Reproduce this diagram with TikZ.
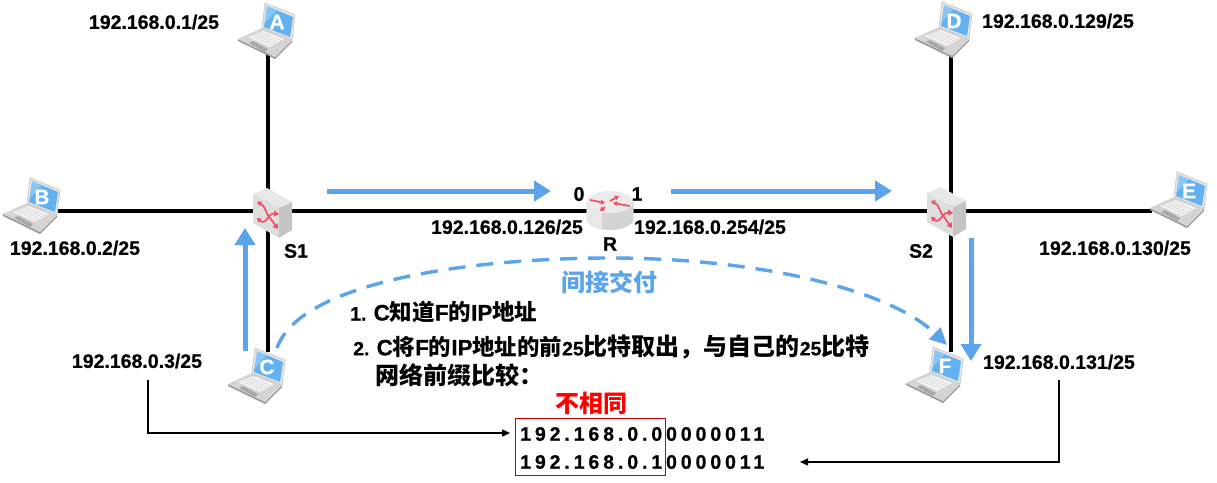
\documentclass[tikz,border=0pt]{standalone}
\usepackage{fontspec}
\setmainfont{Liberation Sans}[BoldFeatures={FakeBold=0.6}]
\newfontfamily\cjkf{Noto Sans CJK SC}
\newfontfamily\bitsf{Liberation Sans}[LetterSpace=20,BoldFeatures={FakeBold=0.6}]
\newcommand{\zh}[1]{{\cjkf\bfseries #1}}
\newcommand{\fs}[2]{{\fontsize{#1}{24}\selectfont #2}}
\usetikzlibrary{arrows.meta,calc}
\definecolor{bluearrow}{HTML}{5BA4EC}
\definecolor{screenblue}{HTML}{62B2F2}
\definecolor{redarrow}{HTML}{EE5064}
\tikzset{
 x=1pt,y=-1pt,
 wire/.style={line width=3.2pt,black},
 flow/.style={line width=5pt,bluearrow,-{Triangle[length=17pt,width=20pt]}},
 thinarrow/.style={line width=1.4pt,black,-{Triangle[length=8pt,width=7pt]}},
 lab/.style={font=\fontsize{19.5}{22}\selectfont\bfseries,inner sep=0pt},
 bits/.style={font=\bitsf\fontsize{19.5}{22}\selectfont\bfseries,inner sep=0pt,anchor=west},
 ra/.style={redarrow,line width=1.7pt,{Triangle[length=4pt,width=5pt]}-{Triangle[length=5pt,width=6pt]}},
 rr/.style={redarrow,line width=1.8pt,-{Triangle[length=4pt,width=5pt]}},
 laptop/.pic={
  \fill[black!40] (-30,9)--(-30,11)--(7,29)--(24,12)--(24,10)--(7,27)--cycle;
  \fill[black!17] (-30,9)--(-6,-2)--(24,10)--(7,27)--cycle;
  \fill[black!4] (-20,7)--(-5,1)--(16,9)--(2,17)--cycle;
  \foreach \t in {.2,.4,.6,.8}
    \draw[black!20,line width=.5pt] ($(-20,7)!\t!(-5,1)$) -- ($(2,17)!\t!(16,9)$);
  \fill[black!34] (-19,13)--(-15,11)--(0,19)--(-3,22)--cycle;
  \fill[black!10,draw=black!22,line width=.7pt] (-3,-27)--(27,-15)--(24,10)--(-6,-2)--cycle;
  \fill[screenblue] (-1,-24)--(25,-13)--(22,7)--(-4,-3)--cycle;
  \fill[white,opacity=.25] (-1,-24)--(9,-20)--(-3,-7)--cycle;
 },
 switchbox/.pic={
  \fill[black!9] (-19,-18)--(-5,-24)--(20,-10)--(7,-4)--cycle;
  \fill[black!13] (-19,-18)--(7,-4)--(7,26)--(-19,11)--cycle;
  \fill[black!23] (7,-4)--(20,-10)--(20,18)--(7,26)--cycle;
  \draw[ra] (-15,-10) .. controls (-6,-6) and (-6,3) .. (-2,6) -- (6,17);
  \draw[ra] (-15,6) .. controls (-6,14) and (-4,1) .. (7,2);
 },
 routerbox/.pic={
  \fill[black!17] (-23.5,0) -- (-23.5,17) arc[start angle=180,end angle=0,x radius=23.5,y radius=11] -- (23.5,0) -- cycle;
  \fill[black!9] (-23.5,2) -- (-23.5,17) arc[start angle=180,end angle=110,x radius=23.5,y radius=11] -- (-8,5) -- cycle;
  \fill[black!8] (0,0) ellipse[x radius=23.5,y radius=11];
  \draw[rr] (-20,-2) -- (-5,1);
  \draw[rr] (-5,5) -- (-10,9);
  \draw[rr] (0,-1) -- (9,-6);
  \draw[rr] (20,4) -- (3,1);
 },
}
\begin{document}
\begin{tikzpicture}
\useasboundingbox[fill=white] (0,0) rectangle (1217,482);
% device positions
\coordinate (A) at (268,52);
\coordinate (B) at (58,211);
\coordinate (C) at (268,352);
\coordinate (D) at (951,50);
\coordinate (E) at (1152,211);
\coordinate (F) at (951,352);
\coordinate (S1) at (268,211);
\coordinate (S2) at (951,211);
\coordinate (R) at (610,211);
% wires
\draw[wire] (A) -- (S1);
\draw[wire] (C) -- (S1);
\draw[wire] (B) -- (S1);
\draw[wire] (S1) -- (R);
\draw[wire] (R) -- (S2);
\draw[wire] (S2) -- (E);
\draw[wire] (D) -- (S2);
\draw[wire] (F) -- (S2);
% devices
\pic at (268,30) {laptop};
\pic at (33,205) {laptop};
\pic at (258,375) {laptop};
\pic at (945,29) {laptop};
\pic at (1180,199) {laptop};
\pic at (936,374) {laptop};
\pic at (272,212) {switchbox};
\pic at (946,211) {switchbox};
\pic at (610,202) {routerbox};
\foreach \n/\l/\x/\y in {la/A/277/22,lb/B/42/197,lc/C/267/367,ld/D/954/21,le/E/1189/191,lf/F/945/366}
  \node[font=\fontsize{21}{21}\selectfont\bfseries,text=white,inner sep=0pt] (\n) at (\x,\y) {\l};
% flow arrows
\coordinate (f1a) at (327,191); \coordinate (f1b) at (551,191);
\coordinate (f2a) at (671,191); \coordinate (f2b) at (892,191);
\coordinate (f3a) at (245,351); \coordinate (f3b) at (245,228);
\coordinate (f4a) at (971,238); \coordinate (f4b) at (971,361);
\draw[flow] (f1a) -- (f1b);
\draw[flow] (f2a) -- (f2b);
\draw[flow] (f3a) -- (f3b);
\draw[flow] (f4a) -- (f4b);
\coordinate (da) at (277,348); \coordinate (db) at (947,345);
\draw[bluearrow,line width=3.4pt,dash pattern=on 17pt off 11pt,-{Triangle[length=17pt,width=16pt]}]
  (da) .. controls (300,282) and (470,258) .. (610,258) .. controls (760,258) and (890,290) .. (db);
% labels
\node[lab] (t1) at (154,22) {192.168.0.1/25};
\node[lab] (t2) at (75,248) {192.168.0.2/25};
\node[lab] (t3) at (137,361) {192.168.0.3/25};
\node[lab] (t4) at (1058,21) {192.168.0.129/25};
\node[lab] (t5) at (1115,248) {192.168.0.130/25};
\node[lab] (t6) at (1059,362) {192.168.0.131/25};
\node[lab] (t7) at (507,227) {192.168.0.126/25};
\node[lab] (t8) at (710,227) {192.168.0.254/25};
\node[lab] (p0) at (579,194) {0};
\node[lab] (p1) at (637,194) {1};
\node[lab] (nr) at (610,244) {R};
\node[lab] (n1) at (296,251) {S1};
\node[lab] (n2) at (921,251) {S2};
\node[inner sep=0pt,text=bluearrow,font=\fontsize{24}{26}\selectfont] (ind) at (609,282) {\zh{间接交付}};
\node[lab,anchor=west] (s1) at (350,312) {1. \fs{22.5}{C\zh{知道}F\zh{的}IP\zh{地址}}};
\node[lab,anchor=west] (s2) at (353,347) {2. \fs{22.4}{C\zh{将}F\zh{的}IP\zh{地址的前}}25\fs{24}{\zh{比特取出，与自己的}}25\fs{24}{\zh{比特}}};
\node[lab,anchor=west,font=\fontsize{24}{26}\selectfont] (s3) at (375,375) {\zh{网络前缀比较：}};
\node[inner sep=0pt,text=red,font=\fontsize{24}{26}\selectfont] (nq) at (591,403) {\zh{不相同}};
% bits
\node[bits] (b1) at (520,434) {192.168.0.00000011};
\node[bits] (b2) at (520,462) {192.168.0.10000011};
\node[draw=red!80!black,line width=1pt,inner sep=0pt,minimum width=150pt,minimum height=57pt] (box) at (590.5,447) {};
% thin arrows
\coordinate (g1) at (148,380); \coordinate (g2) at (1059,380);
\coordinate (g1e) at (510,433); \coordinate (g2e) at (800,462);
\draw[thinarrow] (g1) |- (g1e);
\draw[thinarrow] (g2) |- (g2e);
\end{tikzpicture}
\end{document}
